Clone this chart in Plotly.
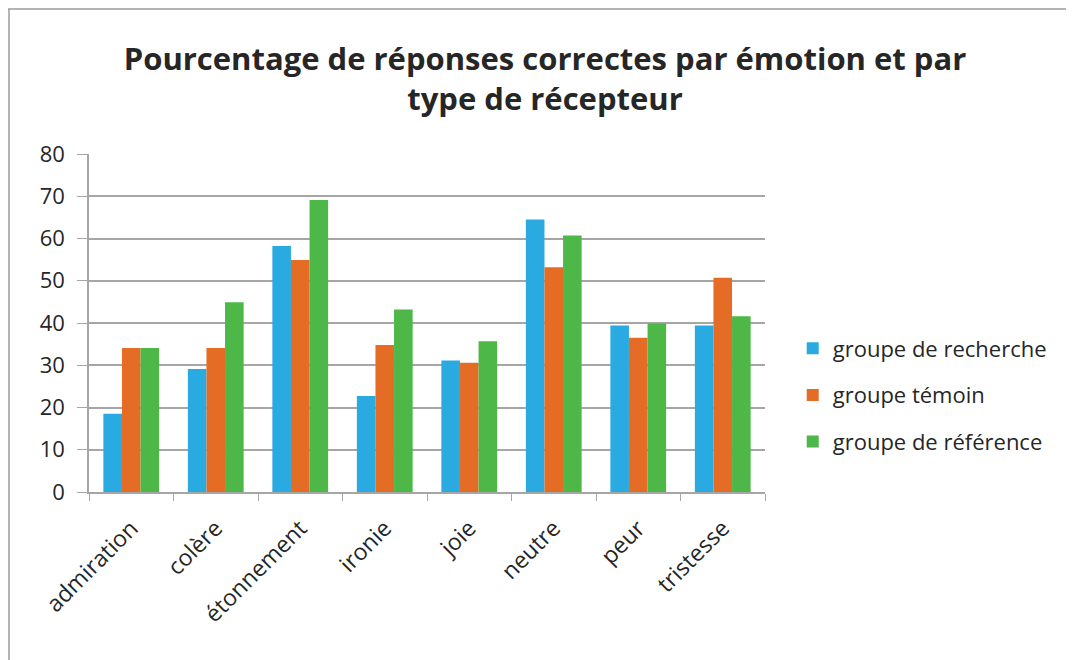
import plotly.graph_objects as go

# Categories and series
emotions = ["admiration", "colère", "étonnement", "ironie", "joie", "neutre", "peur", "tristesse"]
recherche = [18.5, 29.1, 58.2, 22.7, 31.1, 64.5, 39.4, 39.4]
temoin = [34.1, 34.1, 54.9, 34.8, 30.6, 53.2, 36.5, 50.7]
reference = [34.1, 44.9, 69.1, 43.2, 35.7, 60.7, 39.9, 41.6]
series_names = ["groupe de recherche", "groupe témoin", "groupe de référence"]
colors = ["#29ABE2", "#E46C25", "#4DB848"]

FONT = "'Open Sans', Lato, sans-serif"
GRID = "#A6A6A6"
TEXT = "#262626"

fig = go.Figure()
for i, (name, vals) in enumerate(zip(series_names, [recherche, temoin, reference])):
    fig.add_trace(go.Bar(
        x=emotions, y=vals, name=name, legendgroup=str(i),
        marker=dict(color=colors[i], line=dict(width=0)),
    ))

# page body adds an 8px offset, so margins are shifted by that amount
fig.update_layout(
    width=1074, height=660,
    margin=dict(l=81, r=317, t=146, b=176),
    paper_bgcolor="white", plot_bgcolor="white",
    barmode="group", bargap=0.34, bargroupgap=0,
    font=dict(family=FONT, color=TEXT),
    title=dict(
        text="<b>Pourcentage de réponses correctes par émotion et par<br>type de récepteur</b>",
        x=0.5, xanchor="center", xref="container",
        y=1 - 62 / 660, yanchor="middle", yref="container",
        font=dict(size=31, family=FONT, color=TEXT),
    ),
    legend=dict(
        x=1.041, xanchor="left", y=0.287, yanchor="middle",
        font=dict(size=22, family=FONT, color=TEXT),
        tracegroupgap=15, traceorder="grouped",
        bgcolor="rgba(0,0,0,0)",
    ),
    showlegend=True,
)

fig.update_xaxes(
    showline=True, linecolor=GRID, linewidth=1.5,
    ticks="outside", tickson="boundaries", ticklen=7, tickcolor=GRID,
    tickangle=-45, tickfont=dict(size=23, color=TEXT),
    ticklabelstandoff=12,
    showgrid=False,
)
fig.update_yaxes(
    range=[0, 80], dtick=10,
    showline=True, linecolor=GRID, linewidth=1.5,
    ticks="outside", ticklen=10, tickcolor=GRID,
    ticklabelstandoff=8,
    showgrid=True, gridcolor=GRID, gridwidth=1.5,
    tickfont=dict(size=22, color=TEXT), zeroline=False,
)

# Chart border (top and left edges visible in the reference)
fig.add_shape(type="line", xref="paper", yref="paper",
              x0=-81 / 676, x1=1000 / 676, y0=483 / 338, y1=483 / 338,
              line=dict(color="#9B9B9B", width=1.5))
fig.add_shape(type="line", xref="paper", yref="paper",
              x0=-80 / 676, x1=-80 / 676, y0=483 / 338, y1=-0.6,
              line=dict(color="#9B9B9B", width=1.5))

fig.write_html("out.html")
